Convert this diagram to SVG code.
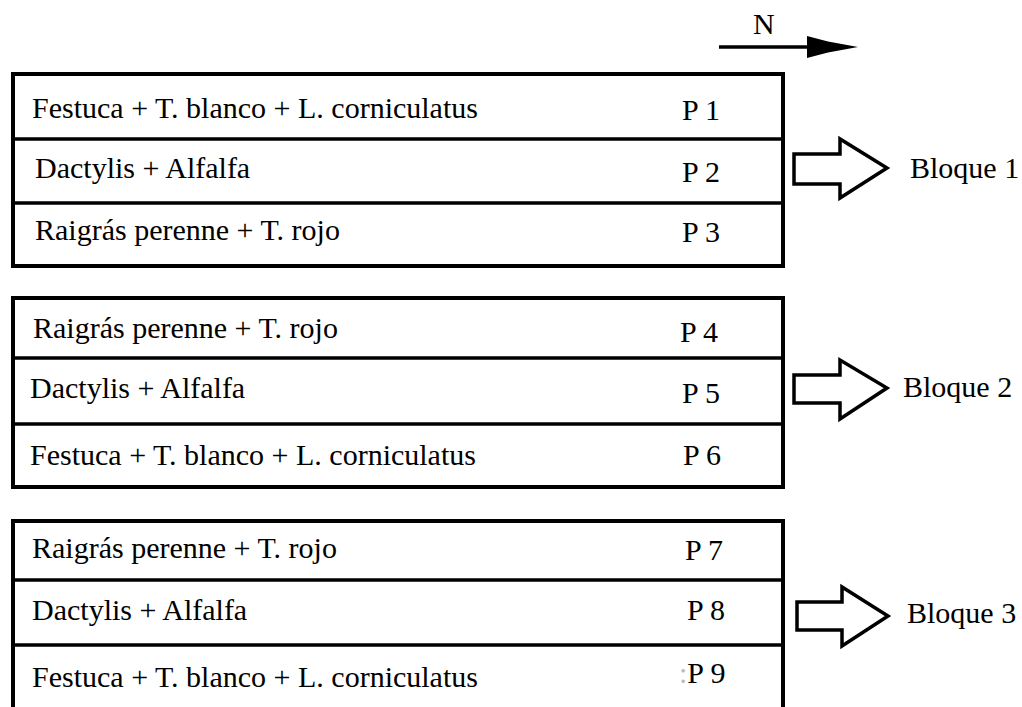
<svg xmlns="http://www.w3.org/2000/svg" width="1022" height="707" viewBox="0 0 1022 707">
<style>
.box{fill:#fff;stroke:#000;stroke-width:4}
.div{stroke:#000;stroke-width:3.5}
.t{font-family:"Liberation Serif","Times New Roman",serif;font-size:30px;fill:#000}
.arr{fill:#fff;stroke:#000;stroke-width:3.5;stroke-linejoin:miter}
</style>
<rect width="1022" height="707" fill="#fff"/>
<g id="north">
<text class="t" x="753" y="34">N</text>
<line x1="719" y1="47" x2="812" y2="47" stroke="#000" stroke-width="3.5"/>
<polygon points="807,36 828,41.5 858,47 828,52.5 807,58" fill="#000"/>
</g>
<g id="bloque1">
<rect class="box" x="13" y="74" width="770" height="192"/>
<line class="div" x1="13" y1="139" x2="783" y2="139"/>
<line class="div" x1="13" y1="203" x2="783" y2="203"/>
<text class="t" x="32" y="118">Festuca + T. blanco + L. corniculatus</text>
<text class="t" x="682" y="120">P 1</text>
<text class="t" x="35" y="178">Dactylis + Alfalfa</text>
<text class="t" x="682" y="182">P 2</text>
<text class="t" x="35" y="240">Raigrás perenne + T. rojo</text>
<text class="t" x="682" y="242">P 3</text>
<text class="t" x="910" y="178">Bloque 1</text>
</g>
<g id="bloque2">
<rect class="box" x="13" y="298" width="770" height="189"/>
<line class="div" x1="13" y1="358" x2="783" y2="358"/>
<line class="div" x1="13" y1="424" x2="783" y2="424"/>
<text class="t" x="33" y="338">Raigrás perenne + T. rojo</text>
<text class="t" x="680" y="342">P 4</text>
<text class="t" x="30" y="398">Dactylis + Alfalfa</text>
<text class="t" x="682" y="403">P 5</text>
<text class="t" x="30" y="465">Festuca + T. blanco + L. corniculatus</text>
<text class="t" x="683" y="465">P 6</text>
<text class="t" x="903" y="397">Bloque 2</text>
</g>
<g id="bloque3">
<rect class="box" x="13" y="521" width="770" height="200"/>
<line class="div" x1="13" y1="580" x2="783" y2="580"/>
<line class="div" x1="13" y1="645" x2="783" y2="645"/>
<text class="t" x="32" y="558">Raigrás perenne + T. rojo</text>
<text class="t" x="685" y="560">P 7</text>
<text class="t" x="32" y="620">Dactylis + Alfalfa</text>
<text class="t" x="687" y="620">P 8</text>
<text class="t" x="32" y="687">Festuca + T. blanco + L. corniculatus</text>
<text class="t" x="679" y="683"><tspan fill="#bbb">:</tspan>P 9</text>
<text class="t" x="907" y="623">Bloque 3</text>
</g>
<g id="connectors">
<polygon class="arr" points="794,154 840,154 840,139 887,168 840,198 840,184 794,184"/>
<polygon class="arr" points="794,375 840,375 840,360 887,388 840,419 840,403 794,403"/>
<polygon class="arr" points="797,602 842,602 842,587 888,616 842,646 842,630 797,630"/>
</g>
</svg>
